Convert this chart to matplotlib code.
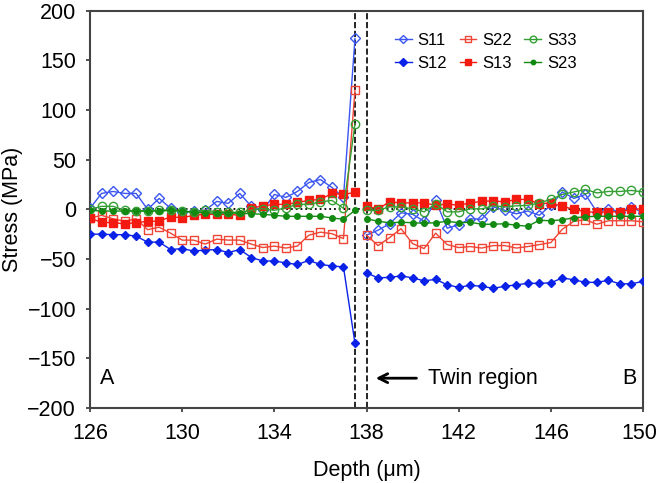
import numpy as np
import matplotlib
matplotlib.use('Agg')
import matplotlib.pyplot as plt
from matplotlib.transforms import ScaledTranslation

plt.rcParams['font.family'] = ['Liberation Sans', 'DejaVu Sans']

# depth positions, left of the twin and right of it
depth_left = np.arange(126, 138, 0.5)
depth_right = np.arange(138, 150.5, 0.5)

s11_left = [1, 16, 18, 16, 16, 0, 11, 1, -3, -2, -1, 8, 6, 16, 3, -1, 15, 12, 18, 27, 30, 22, 12, 172]
s12_left = [-25, -25, -25.5, -25.5, -27, -33, -33, -40.5, -39.5, -42, -41, -40.5, -43.5, -40.5,
            -48.5, -52, -52, -54, -55.5, -51.5, -55.5, -57, -58, -135]
s22_left = [-9, -6, -9.5, -12, -9.5, -20.5, -18, -24, -31, -31, -35, -30, -31, -31, -35, -38.5,
            -37, -39, -37, -26, -23, -24.5, -29.5, 120]
s13_left = [-9, -13, -13.5, -14.5, -13.5, -12, -12, -7.5, -8.5, -6, -5, -5, -5, -6, 1.3, 3.4,
            5, 5, 7, 9, 10, 16, 15, 17]
s33_left = [0, 3, 3, -1, -1.5, -1.7, -1, -0.5, -1.7, -2.7, -1, -2.4, -3, -3, -1, 0.7, -1, 1.5,
            5, 5, 7.4, 9, 1, 86]
s23_left = [-1, -1.7, -1.7, -1.7, -1.7, -1.7, -1.7, -1, -2, -2.7, -3.7, -3.7, -3.7, -4, -4.4,
            -5, -6, -7, -7, -7, -7, -8.7, -10, -1]

s11_right = [-26, -21, -14.5, -3.5, -5, -12, 9, -19, -15.5, -9.5, -10, 2.5, -1, -4.5, -1.7,
             -6, 4, 17.5, 11, 15, -2.7, 0.7, -2.7, 2.4, -3.7]
s12_right = [-64, -69, -68.5, -67, -69, -72, -70.5, -76, -78.5, -76.5, -77.5, -79.5, -77.5,
             -76, -74.5, -74.5, -74, -69, -71, -73.5, -73.5, -71.5, -75, -75, -72.5]
s22_right = [-26, -36.5, -28.5, -19.5, -34.5, -39.5, -24, -35.5, -38.5, -37.5, -39, -36.5,
             -36.5, -39, -37.5, -35.5, -33.5, -20, -12, -10.5, -15, -11.5, -11.5, -11.5, -12.5]
s13_right = [3, 0.5, 7.5, 6.5, 6.5, 6.5, 4, 5.5, 4, 6.5, 8, 8.5, 7.5, 10, 10, 5.5, 6.5, 3, 0,
             -2.5, -3, -2.5, -2.5, 0, 0.5]
s33_right = [-1, -1, 2.5, 2.5, 0.5, -2.5, 5.5, -2.5, -2.5, 0.5, 0.5, 3.5, 2.5, 3.5, 4, 6.5,
             10, 15, 17.5, 20, 16.5, 18, 18, 19, 17.5]
s23_right = [-9.5, -12, -13.5, -13, -13.5, -14, -13.5, -12, -13.5, -13, -15, -15, -14.5, -16,
             -17, -11, -11.5, -10.5, -8.5, -7.5, -7, -7, -7, -7, -7]

twin_edges = [137.5, 138]

series = [
    ('S11', s11_left, s11_right, dict(color='#3a55f0', marker='D', ms=5, mfc='none', mew=1)),
    ('S12', s12_left, s12_right, dict(color='#0a22e8', marker='D', ms=4.5, mfc='#0a22e8', mew=1)),
    ('S22', s22_left, s22_right, dict(color='#f04434', marker='s', ms=6, mfc='none', mew=1)),
    ('S13', s13_left, s13_right, dict(color='#f41a10', marker='s', ms=6, mfc='#f41a10', mew=1)),
    ('S33', s33_left, s33_right, dict(color='#34a034', marker='o', ms=6, mfc='none', mew=1)),
    ('S23', s23_left, s23_right, dict(color='#128a12', marker='o', ms=4, mfc='#128a12', mew=1)),
]

fig = plt.figure(figsize=(6.58, 4.83), dpi=100)
ax = fig.add_axes([0.1368, 0.1553, 0.8404, 0.8226])

ax.axhline(0, color='black', ls=':', lw=1.3, zorder=1)
for xe in twin_edges:
    ax.axvline(xe, color='black', ls='--', lw=1.2, zorder=1)

for name, left, right, style in series:
    ax.plot(depth_left, left, lw=1, label=name, zorder=3, **style)
    ax.plot(depth_right, right, lw=1, zorder=3, **style)

ax.set_xlim(126, 150)
ax.set_ylim(-200, 200)
ax.set_xticks(np.arange(126, 151, 4))
ax.set_yticks(np.arange(-200, 201, 50))
ax.set_yticklabels([str(v).replace('-', '\u2212') for v in range(-200, 201, 50)])
ax.tick_params(labelsize=15.5, direction='out', length=3, width=1.2, colors='#333333',
               labelcolor='black')
ax.tick_params(axis='x', pad=8)
ax.tick_params(axis='y', pad=7)
for sp in ax.spines.values():
    sp.set_linewidth(1.5)
    sp.set_color('#444444')

# last x label sits a little left so it stays inside the figure
last = ax.get_xticklabels()[-1]
last.set_transform(last.get_transform() + ScaledTranslation(-4 / 100, 0, fig.dpi_scale_trans))

ax.set_xlabel('Depth (\u03bcm)', fontsize=15.5, labelpad=11)
ax.set_ylabel('Stress (MPa)', fontsize=15.5, labelpad=3)

ax.text(126.45, -170, 'A', fontsize=15.5, ha='left', va='center')
ax.text(149.7, -170, 'B', fontsize=15.5, ha='right', va='center')
ax.annotate('Twin region', xy=(138.4, -170), xytext=(140.65, -170), fontsize=15.5,
            ha='left', va='center',
            arrowprops=dict(arrowstyle='->', color='black', lw=2, shrinkA=6, shrinkB=0,
                            mutation_scale=16))

ax.legend(loc='upper left', bbox_to_anchor=(380 / 658, 1 - 18 / 483),
          bbox_transform=fig.transFigure, ncol=3, frameon=False, fontsize=12,
          handlelength=1.0, handletextpad=0.35, columnspacing=0.75, labelspacing=0.5,
          markerscale=0.8)

fig.savefig('out.png', dpi=100)
